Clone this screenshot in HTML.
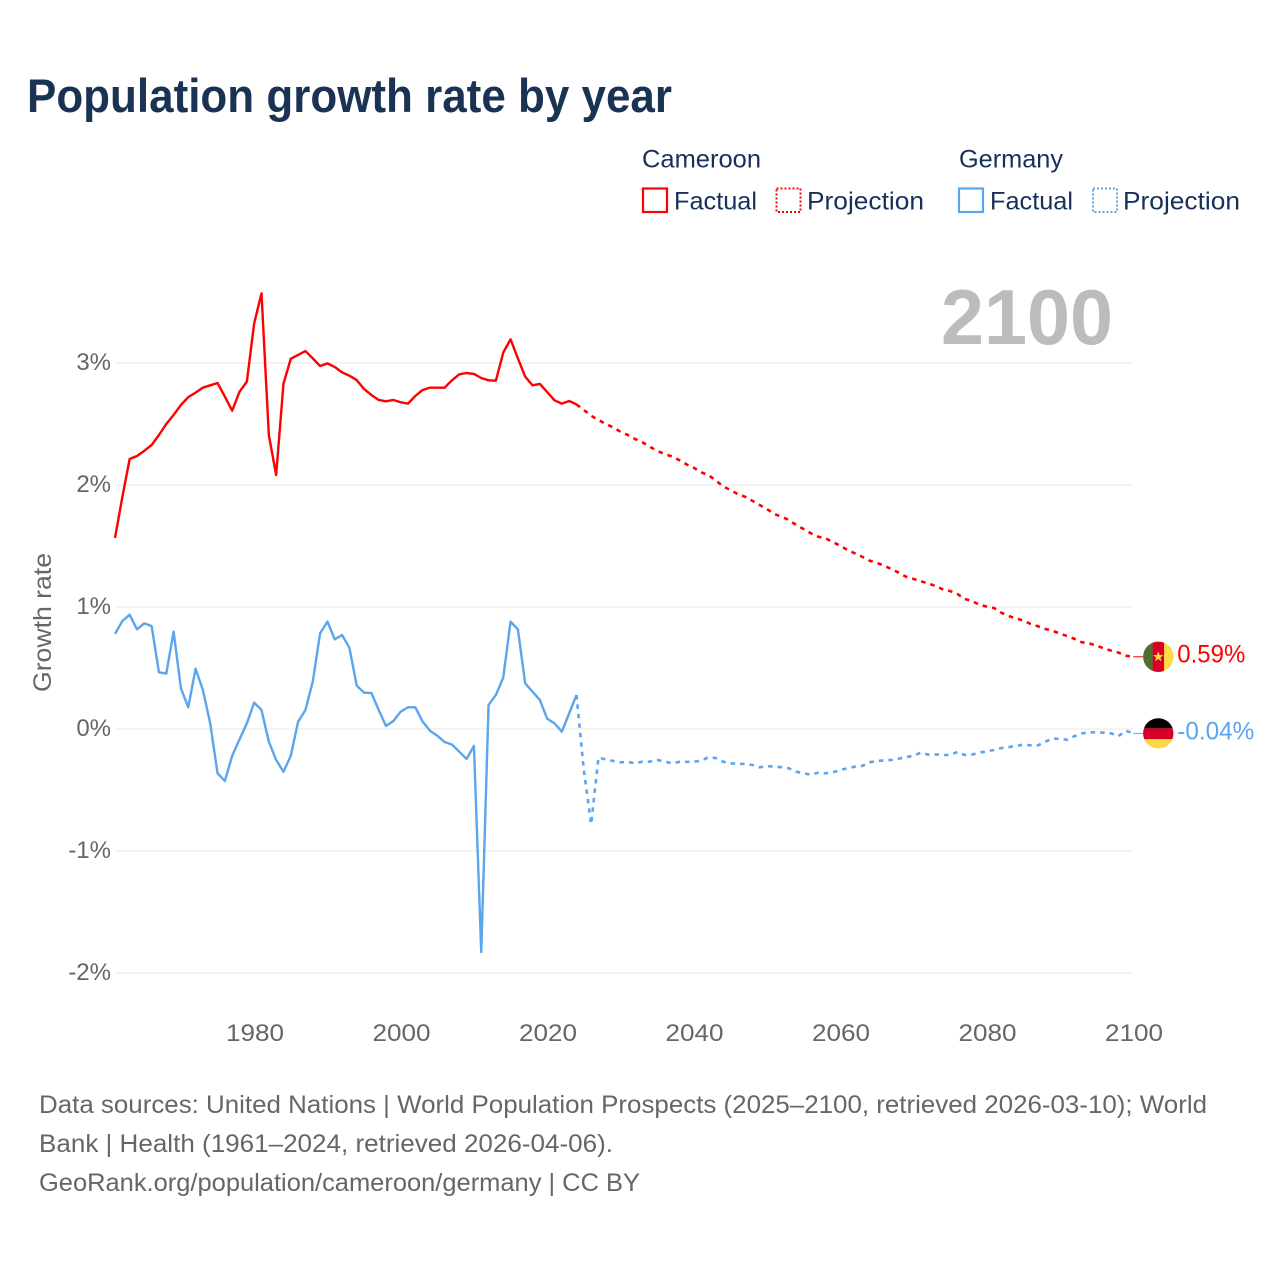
<!DOCTYPE html>
<html lang="en">
<head>
<meta charset="utf-8">
<title>Population growth rate by year</title>
<style>
html,body{margin:0;padding:0;background:#fff;}
svg{display:block;font-family:"Liberation Sans",sans-serif;}
.ax{font-size:24px;fill:#666;}
.lg{font-size:25px;fill:#17305a;}
.ft{font-size:25px;fill:#666;}
</style>
</head>
<body>
<svg id="chart" xmlns="http://www.w3.org/2000/svg" width="1280" height="1280" viewBox="0 0 1280 1280">
  <rect x="0" y="0" width="1280" height="1280" fill="#fff"/>
  <text x="27" y="112" font-size="47" font-weight="700" fill="#1a3354" textLength="645" lengthAdjust="spacingAndGlyphs">Population growth rate by year</text>

  <g>
    <text class="lg" x="642" y="167.5" textLength="119" lengthAdjust="spacingAndGlyphs">Cameroon</text>
    <text class="lg" x="959" y="167.5" textLength="104" lengthAdjust="spacingAndGlyphs">Germany</text>
    <rect x="643" y="188.5" width="24" height="23.5" fill="none" stroke="#ff0000" stroke-width="2.2"/>
    <text class="lg" x="674" y="209.5" textLength="83" lengthAdjust="spacingAndGlyphs">Factual</text>
    <rect x="776.5" y="188.5" width="24" height="23.5" fill="none" stroke="#ff0000" stroke-width="2" stroke-dasharray="2 2"/>
    <text class="lg" x="807" y="209.5" textLength="117" lengthAdjust="spacingAndGlyphs">Projection</text>
    <rect x="959" y="188.5" width="24" height="23.5" fill="none" stroke="#5aa5ee" stroke-width="2.2"/>
    <text class="lg" x="990" y="209.5" textLength="83" lengthAdjust="spacingAndGlyphs">Factual</text>
    <rect x="1093" y="188.5" width="24" height="23.5" fill="none" stroke="#5aa5ee" stroke-width="2" stroke-dasharray="2 2"/>
    <text class="lg" x="1123" y="209.5" textLength="117" lengthAdjust="spacingAndGlyphs">Projection</text>
  </g>

  <g id="grid"></g>
  <g id="yticks"></g>
  <g id="xticks"></g>

  <text x="1113" y="344" text-anchor="end" font-size="78" font-weight="700" fill="#bcbcbc" textLength="172" lengthAdjust="spacingAndGlyphs">2100</text>

  <text transform="translate(51,622.5) rotate(-90)" text-anchor="middle" font-size="25" fill="#666" textLength="139" lengthAdjust="spacingAndGlyphs">Growth rate</text>

  <g id="series"></g>

  <defs>
    <clipPath id="flag-clip"><circle cx="0" cy="0" r="15.2"/></clipPath>
  </defs>

  <g id="cameroon-end">
    <g clip-path="url(#flag-clip)">
      <rect x="-16" y="-16" width="10.5" height="32" fill="#4f6f2e"/>
      <rect x="-5.7" y="-16" width="11.7" height="32" fill="#d80027"/>
      <rect x="5.8" y="-16" width="10.5" height="32" fill="#ffda44"/>
      <polygon points="0,-5.5 1.4,-1.7 5.3,-1.7 2.1,0.7 3.3,4.6 0,2.2 -3.3,4.6 -2.1,0.7 -5.3,-1.7 -1.4,-1.7" fill="#ffda44"/>
    </g>
    <text x="19" y="5.5" font-size="25" fill="#ff0000" textLength="68" lengthAdjust="spacingAndGlyphs">0.59%</text>
  </g>

  <g id="germany-end">
    <g clip-path="url(#flag-clip)">
      <rect x="-16" y="-16" width="32" height="11" fill="#000"/>
      <rect x="-16" y="-5" width="32" height="11" fill="#d80027"/>
      <rect x="-16" y="5.7" width="32" height="11" fill="#ffda44"/>
    </g>
    <text x="19" y="6" font-size="25" fill="#5aa5ee" textLength="77" lengthAdjust="spacingAndGlyphs">-0.04%</text>
  </g>

  <g>
    <text class="ft" x="39" y="1113" textLength="1168" lengthAdjust="spacingAndGlyphs">Data sources: United Nations | World Population Prospects (2025–2100, retrieved 2026-03-10); World</text>
    <text class="ft" x="39" y="1152" textLength="574" lengthAdjust="spacingAndGlyphs">Bank | Health (1961–2024, retrieved 2026-04-06).</text>
    <text class="ft" x="39" y="1191" textLength="601" lengthAdjust="spacingAndGlyphs">GeoRank.org/population/cameroon/germany | CC BY</text>
  </g>
</svg>

<script>
const xTickYears = [1980, 2000, 2020, 2040, 2060, 2080, 2100];
const yTickValues = [3, 2, 1, 0, -1, -2];
const yTickLabels = ['3%', '2%', '1%', '0%', '-1%', '-2%'];
const factualStartYear = 1961;
const projectionStartYear = 2024;

const cameroonFactual = [1.566,1.90,2.213,2.238,2.28,2.328,2.41,2.50,2.574,2.656,2.72,2.757,2.798,2.817,2.836,2.724,2.609,2.765,2.847,3.325,3.571,2.41,2.082,2.83,3.035,3.066,3.098,3.038,2.975,2.997,2.967,2.923,2.896,2.86,2.787,2.738,2.697,2.686,2.697,2.678,2.667,2.73,2.779,2.798,2.798,2.798,2.858,2.907,2.918,2.91,2.877,2.858,2.855,3.085,3.194,3.038,2.888,2.817,2.828,2.762,2.694,2.667,2.689,2.661];
const cameroonProjection = [2.661,2.615,2.568,2.533,2.5,2.473,2.437,2.41,2.377,2.35,2.314,2.281,2.254,2.235,2.205,2.17,2.142,2.104,2.082,2.038,1.989,1.959,1.926,1.904,1.871,1.836,1.803,1.762,1.74,1.713,1.672,1.639,1.604,1.576,1.563,1.533,1.502,1.467,1.44,1.412,1.38,1.361,1.339,1.311,1.281,1.248,1.23,1.211,1.194,1.172,1.145,1.131,1.107,1.066,1.049,1.019,1.003,.992,.953,.926,.907,.888,.861,.842,.82,.806,.781,.762,.738,.711,.702,.683,.661,.642,.626,.601,.592];
const germanyFactual = [.779,.885,.937,.817,.866,.844,.465,.454,.798,.333,.178,.494,.32,.046,-.363,-.426,-.219,-.085,.046,.216,.156,-.104,-.254,-.35,-.219,.06,.156,.388,.784,.88,.735,.77,.666,.355,.298,.295,.156,.025,.066,.142,.178,.178,.06,-.014,-.055,-.107,-.128,-.186,-.246,-.139,-1.828,.197,.279,.42,.88,.817,.374,.306,.238,.084,.046,-.022,.128,.279];
const germanyProjection = [.279,-.336,-.78,-.235,-.249,-.262,-.273,-.27,-.281,-.268,-.268,-.254,-.265,-.281,-.27,-.27,-.268,-.26,-.232,-.238,-.268,-.281,-.284,-.287,-.295,-.314,-.306,-.306,-.314,-.322,-.35,-.363,-.374,-.358,-.363,-.355,-.336,-.322,-.309,-.303,-.273,-.262,-.257,-.254,-.243,-.23,-.22,-.194,-.21,-.208,-.213,-.213,-.188,-.213,-.21,-.194,-.183,-.172,-.156,-.148,-.139,-.128,-.134,-.134,-.104,-.077,-.082,-.088,-.058,-.036,-.027,-.027,-.03,-.036,-.058,-.014,-.036];

const SVG_NS = 'http://www.w3.org/2000/svg';
function xScale(year) { return 115.0 + 7.325 * (year - 1961); }
function yScale(value) { return 729 - 122 * value; }
function pathFrom(values, startYear) {
  return values.map(function (v, i) {
    return (i ? 'L' : 'M') + xScale(startYear + i).toFixed(2) + ' ' + yScale(v).toFixed(2);
  }).join(' ');
}

const gridLayer = document.getElementById('grid');
const yLayer = document.getElementById('yticks');
const xLayer = document.getElementById('xticks');
const seriesLayer = document.getElementById('series');

yTickValues.forEach(function (v, i) {
  const line = document.createElementNS(SVG_NS, 'line');
  line.setAttribute('x1', 115);
  line.setAttribute('x2', 1133);
  line.setAttribute('y1', yScale(v));
  line.setAttribute('y2', yScale(v));
  line.setAttribute('stroke', '#ececec');
  line.setAttribute('stroke-width', '1.3');
  
  
  gridLayer.appendChild(line);

  const label = document.createElementNS(SVG_NS, 'text');
  label.setAttribute('class', 'ax');
  label.setAttribute('x', 111);
  label.setAttribute('y', yScale(v) + 7);
  label.setAttribute('text-anchor', 'end');
  
  
  label.textContent = yTickLabels[i];
  yLayer.appendChild(label);
});

xTickYears.forEach(function (year) {
  const label = document.createElementNS(SVG_NS, 'text');
  label.setAttribute('class', 'ax');
  label.setAttribute('x', xScale(year) + 0.8);
  label.setAttribute('y', 1041);
  label.setAttribute('text-anchor', 'middle');
  label.setAttribute('textLength', '58');
  label.setAttribute('lengthAdjust', 'spacingAndGlyphs');
  
  
  label.textContent = String(year);
  xLayer.appendChild(label);
});

function addLine(name, values, startYear, color, dashed) {
  const path = document.createElementNS(SVG_NS, 'path');
  path.setAttribute('d', pathFrom(values, startYear));
  path.setAttribute('fill', 'none');
  path.setAttribute('stroke', color);
  path.setAttribute('stroke-width', dashed ? '2.6' : '2.4');
  path.setAttribute('stroke-linejoin', 'round');
  if (dashed) path.setAttribute('stroke-dasharray', '4.5 5');
  
  
  seriesLayer.appendChild(path);
}
function addConnector(name, value, color) {
  const line = document.createElementNS(SVG_NS, 'line');
  line.setAttribute('x1', xScale(2100));
  line.setAttribute('x2', 1143);
  line.setAttribute('y1', yScale(value));
  line.setAttribute('y2', yScale(value));
  line.setAttribute('stroke', color);
  line.setAttribute('stroke-width', '1');
  
  
  seriesLayer.appendChild(line);
}

addLine('cameroon-factual-line', cameroonFactual, factualStartYear, '#ff0000', false);
addLine('cameroon-projection-line', cameroonProjection, projectionStartYear, '#ff0000', true);
addLine('germany-factual-line', germanyFactual, factualStartYear, '#5aa5ee', false);
addLine('germany-projection-line', germanyProjection, projectionStartYear, '#5aa5ee', true);

const cameroonLast = cameroonProjection[cameroonProjection.length - 1];
const germanyLast = germanyProjection[germanyProjection.length - 1];
addConnector('cameroon-end-connector', cameroonLast, '#ff0000');
addConnector('germany-end-connector', germanyLast, '#5aa5ee');
document.getElementById('cameroon-end').setAttribute('transform', 'translate(1158.3,' + yScale(cameroonLast).toFixed(2) + ')');
document.getElementById('germany-end').setAttribute('transform', 'translate(1158.3,' + yScale(germanyLast).toFixed(2) + ')');
</script>
</body>
</html>
